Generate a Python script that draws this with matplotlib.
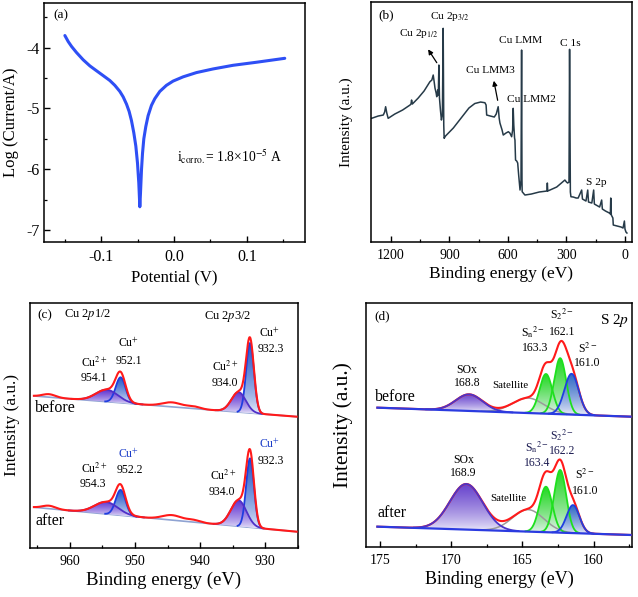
import numpy as np
import matplotlib
matplotlib.use('Agg')
import matplotlib.pyplot as plt
import matplotlib.colors as mcolors
from matplotlib.patches import PathPatch
from matplotlib.ticker import MultipleLocator

plt.rcParams['font.family'] = 'Liberation Serif'
plt.rcParams['mathtext.fontset'] = 'stix'
plt.rcParams['axes.unicode_minus'] = False

# ---- (a) polarization curve ----
pot = [-0.1503, -0.1457, -0.1411, -0.1343, -0.1251, -0.1159, -0.1068, -0.0976, -0.0885,
       -0.0816, -0.0747, -0.0701, -0.0655, -0.0619, -0.0587, -0.0555, -0.0527, -0.0504,
       -0.0486, -0.0472, -0.0463, -0.0449, -0.0435, -0.0417, -0.0390, -0.0358, -0.0312,
       -0.0266, -0.0197, -0.0106, -0.0014, 0.0124, 0.0307, 0.0536, 0.0811, 0.1132, 0.1522]
logi = [-3.80, -3.90, -3.98, -4.08, -4.20, -4.30, -4.38, -4.46, -4.54,
        -4.62, -4.72, -4.81, -4.93, -5.05, -5.20, -5.40, -5.62, -5.90,
        -6.23, -6.62, -6.40, -6.01, -5.74, -5.50, -5.30, -5.12, -4.95,
        -4.84, -4.72, -4.62, -4.55, -4.48, -4.41, -4.35, -4.29, -4.24, -4.175]

# ---- (b) survey spectrum ----
survey_be = [1299, 1265, 1239, 1232, 1227, 1221, 1214, 1180, 1140, 1102, 1097, 1094, 1090,
             1060, 1030, 1000, 990, 983, 978, 974, 968, 965, 960, 957, 954, 951, 946, 941,
             936, 932, 929, 927, 920, 880, 840, 800, 770, 740, 718, 712, 709, 690, 670, 660,
             650, 645, 641, 630, 624, 610, 598, 590, 581, 576, 573, 570, 566, 564, 561, 555,
             550, 545, 538, 533, 530, 528, 527, 513, 480, 440, 400, 398, 396, 350, 308, 300,
             294, 287, 284, 280, 277, 265, 250, 240, 222, 218, 200, 191, 187, 170, 160.5, 157,
             130, 119.5, 116, 100, 80, 75, 73, 70, 62, 60, 40, 20, 10, 3, 0, -5, -10]
survey_int = [123.7, 126, 127, 130, 135.3, 129, 123.7, 128, 132, 137, 138, 142, 138,
              144, 151, 160.3, 162, 167, 160, 154, 149, 145.3, 152, 147, 177, 144, 132, 122,
              127, 213.7, 117, 103.7, 106, 114, 124, 134, 138.5, 140, 139.3, 137, 127, 126, 125, 128,
              135.3, 124, 119, 112, 107, 109, 110.3, 109, 105.3, 112, 133.7, 117, 104, 102, 82, 81,
              79, 67, 52, 62, 192, 62, 50.3, 47, 48, 50, 51, 59, 51, 55, 62, 60,
              59, 60, 192.7, 50, 45.3, 45, 44, 44, 52, 43, 41, 52, 40, 39, 52, 38,
              35, 42, 33, 31, 29, 28, 44, 27, 24, 17, 16, 15, 14, 21, 13, 10, 9]

# ---- (c) Cu 2p fitted components ----
c_range = [965.5, 925.2]
c_base_before = [152.0, 131.3]
c_base_after = [40.7, 16.3]
c_kind = ['cu1', 'cu2', 'cu1', 'cu2']
c_center_before = [932.35, 934.1, 952.2, 954.3]
c_height_before = [70.0, 20.0, 25.5, 12.0]
c_sigma_before = [0.6, 1.1, 0.75, 1.7]
c_center_after = [932.35, 934.1, 952.2, 954.4]
c_height_after = [69.0, 26.0, 25.4, 12.0]
c_sigma_after = [0.6, 1.2, 0.75, 1.8]
c_sat_center = [963.2, 944.3, 941.0]
c_sat_height_before = [3.0, 4.5, 2.0]
c_sat_height_after = [3.0, 5.0, 2.0]
c_sat_sigma = [1.0, 1.5, 1.0]

# ---- (d) S 2p fitted components ----
d_range = [175.2, 157.4]
d_base_before = [139.3, 130.3]
d_base_after = [20.3, 12.0]
d_kind = ['sox', 'green', 'green', 'blue']
d_center_before = [168.75, 163.35, 162.35, 161.55]
d_height_before = [16.6, 39.7, 56.0, 40.8]
d_sigma_before = [0.95, 0.45, 0.42, 0.5]
d_center_after = [168.95, 163.35, 162.35, 161.45]
d_height_after = [45.6, 45.5, 62.7, 28.0]
d_sigma_after = [1.15, 0.45, 0.42, 0.45]
d_sat_center = [164.6, 164.6]
d_sat_height = [15.0, 22.0]
d_sat_sigma = [1.1, 1.1]

line_col = {'cu1': '#1f3de0', 'cu2': '#4f30c8', 'sox': '#4a35c8', 'green': '#1ee01e', 'blue': '#2040e0'}
fill_col = {'cu1': '#2458c8', 'cu2': '#6236d2', 'sox': '#6540cc', 'green': '#22d822', 'blue': '#3068c4'}


def gauss(x, c, h, s):
    return h * np.exp(-(x - c) ** 2 / (2 * s ** 2))


def grad_fill(ax, x, base, top, color, z):
    coll = ax.fill_between(x, base, top, facecolor='none', edgecolor='none')
    patch = PathPatch(coll.get_paths()[0], transform=ax.transData, fc='none', ec='none')
    ax.add_patch(patch)
    c = np.array(mcolors.to_rgb(color))
    g = np.linspace(0, 1, 120)[:, None, None] ** 0.7
    rgb = (1 - g) * np.array([0.95, 0.95, 0.99]) + g * c
    im = ax.imshow(rgb, extent=[x.min(), x.max(), base.min(), top.max()], origin='lower',
                   aspect='auto', zorder=z, interpolation='bilinear')
    im.set_clip_path(patch)


def spectrum(ax, rng, base_ends, kinds, centers, heights, sigmas, sat_c, sat_h, sat_s,
             base_col, base_lw, red_z, sat_line=False):
    x = np.linspace(rng[0], rng[1], 900)
    base = np.interp(x, rng[::-1], base_ends[::-1])
    total = base.copy()
    for k, c, h, s in zip(kinds, centers, heights, sigmas):
        g = gauss(x, c, h, s)
        total += g
        m = np.abs(x - c) < 3.2 * s
        grad_fill(ax, x[m], base[m], base[m] + g[m], fill_col[k], 3)
        ax.plot(x[m], base[m] + g[m], color=line_col[k], lw=1.3, zorder=5)
    for c, h, s in zip(sat_c, sat_h, sat_s):
        g = gauss(x, c, h, s)
        total += g
        if sat_line:
            m = np.abs(x - c) < 3 * s
            ax.plot(x[m], base[m] + g[m], color='#9a9a9a', lw=1.1, zorder=4)
    ax.plot(x, base, color=base_col, lw=base_lw, zorder=6 if red_z < 5 else 2)
    ax.plot(x, total, color='#ff1a1a', lw=1.5, zorder=red_z)


def style(ax, fs):
    for s in ax.spines.values():
        s.set_linewidth(1.1)
    ax.tick_params(which='both', direction='in', top=False, right=False, labelsize=fs, pad=5)
    ax.tick_params(which='major', length=4, width=1)
    ax.tick_params(which='minor', length=2.5, width=0.9)


fig = plt.figure(figsize=(6.38, 5.97), dpi=100)
axa = fig.add_axes([0.069, 0.5946, 0.409, 0.4003])
axb = fig.add_axes([0.5815, 0.5946, 0.4091, 0.4020])
axc = fig.add_axes([0.047, 0.0821, 0.420, 0.4104])
axd = fig.add_axes([0.5737, 0.0838, 0.4169, 0.4087])

# (a)
axa.plot(pot, logi, color='#2e4ff5', lw=2.2, solid_capstyle='round', solid_joinstyle='round')
axa.set_xlim(-0.179, 0.18)
axa.set_ylim(-7.2, -3.265)
axa.xaxis.set_minor_locator(MultipleLocator(0.05))
axa.yaxis.set_major_locator(MultipleLocator(1))
axa.yaxis.set_minor_locator(MultipleLocator(0.5))
axa.set_xticks([-0.1, 0.0, 0.1], ['-0.1', '0.0', '0.1'])
style(axa, 11.5)
axa.tick_params(axis='y', pad=3)
axa.set_xlabel('Potential (V)', fontsize=12, labelpad=3)
axa.set_ylabel('Log (Current/A)', fontsize=12)
axa.yaxis.set_label_coords(-0.0958, 0.5)
axa.text(0.063, 0.95, '(a)', transform=axa.transAxes, fontsize=9.5, ha='center', va='center')
axa.text(0.0037, -5.80, r'i$_{\rm corro.}$= 1.8×10$^{-5}$ A', fontsize=9.8, ha='left', va='center')

# (b)
axb.plot(survey_be, survey_int, color='#263a48', lw=1.1)
axb.set_xlim(1302, -36)
axb.set_ylim(0, 240)
axb.set_yticks([])
axb.set_xticks([1200, 900, 600, 300, 0])
axb.xaxis.set_minor_locator(MultipleLocator(150))
style(axb, 10)
axb.set_xlabel('Binding energy (eV)', fontsize=12.5, labelpad=3)
axb.set_ylabel('Intensity (a.u.)', fontsize=11)
axb.yaxis.set_label_coords(-0.069, 0.5)
axb.text(0.057, 0.946, '(b)', transform=axb.transAxes, fontsize=9.5, ha='center', va='center')
fsb = 8.2
axb.text(900, 226, r'Cu 2p$_{3/2}$', fontsize=fsb, ha='center', va='center')
axb.text(1056, 209, r'Cu 2p$_{1/2}$', fontsize=fsb, ha='center', va='center')
axb.annotate('', xy=(1017, 195), xytext=(957, 177),
             arrowprops=dict(arrowstyle='-|>', color='black', lw=0.9, mutation_scale=7))
axb.text(533, 202, 'Cu LMM', fontsize=fsb, ha='center', va='center')
axb.text(692, 172, 'Cu LMM3', fontsize=fsb, ha='center', va='center')
axb.annotate('', xy=(675, 164), xytext=(650, 139),
             arrowprops=dict(arrowstyle='-|>', color='black', lw=0.9, mutation_scale=7))
axb.text(482, 143, 'Cu LMM2', fontsize=fsb, ha='center', va='center')
axb.text(278, 199, 'C 1s', fontsize=fsb, ha='center', va='center')
axb.text(149, 60, 'S 2p', fontsize=fsb, ha='center', va='center')

# (c)
spectrum(axc, c_range, c_base_before, c_kind, c_center_before, c_height_before, c_sigma_before,
         c_sat_center, c_sat_height_before, c_sat_sigma, '#8fa3d2', 1.2, 7)
spectrum(axc, c_range, c_base_after, c_kind, c_center_after, c_height_after, c_sigma_after,
         c_sat_center, c_sat_height_after, c_sat_sigma, '#8fa3d2', 1.2, 7)
axc.set_xlim(966.1, 925.0)
axc.set_ylim(0, 245)
axc.set_yticks([])
axc.set_xticks([960, 950, 940, 930])
axc.xaxis.set_minor_locator(MultipleLocator(5))
style(axc, 10)
axc.set_xlabel('Binding energy (eV)', fontsize=13.5, labelpad=3)
axc.set_ylabel('Intensity (a.u.)', fontsize=12.5)
axc.yaxis.set_label_coords(-0.037, 0.5)
fsc = 8.5
axc.text(963.8, 233, '(c)', fontsize=9.5, ha='center', va='center')
axc.text(957.3, 233, r'Cu 2$p$1/2', fontsize=9, ha='center', va='center')
axc.text(935.8, 231, r'Cu 2$p$3/2', fontsize=9, ha='center', va='center')
axc.text(951.0, 204.7, r'Cu$^{+}$', fontsize=fsc, ha='center', va='center')
axc.text(951.0, 187.3, '952.1', fontsize=fsc, ha='center', va='center')
axc.text(956.3, 184.7, r'Cu$^{2+}$', fontsize=fsc, ha='center', va='center')
axc.text(956.3, 169.7, '954.1', fontsize=fsc, ha='center', va='center')
axc.text(936.2, 181.3, r'Cu$^{2+}$', fontsize=fsc, ha='center', va='center')
axc.text(936.2, 164.7, '934.0', fontsize=fsc, ha='center', va='center')
axc.text(929.3, 214.7, r'Cu$^{+}$', fontsize=fsc, ha='center', va='center')
axc.text(929.2, 199, '932.3', fontsize=fsc, ha='center', va='center')
axc.text(962.2, 139.7, 'before', fontsize=11.5, ha='center', va='center')
axc.text(956.3, 79, r'Cu$^{2+}$', fontsize=fsc, ha='center', va='center')
axc.text(956.5, 64, '954.3', fontsize=fsc, ha='center', va='center')
axc.text(951.0, 94, r'Cu$^{+}$', fontsize=fsc, ha='center', va='center', color='#1a3cc8')
axc.text(950.8, 78, '952.2', fontsize=fsc, ha='center', va='center')
axc.text(936.4, 72, r'Cu$^{2+}$', fontsize=fsc, ha='center', va='center')
axc.text(936.7, 56, '934.0', fontsize=fsc, ha='center', va='center')
axc.text(929.3, 104, r'Cu$^{+}$', fontsize=fsc, ha='center', va='center', color='#1a3cc8')
axc.text(929.2, 87, '932.3', fontsize=fsc, ha='center', va='center')
axc.text(963.0, 27.3, 'after', fontsize=11.5, ha='center', va='center')

# (d)
spectrum(axd, d_range, d_base_before, d_kind, d_center_before, d_height_before, d_sigma_before,
         d_sat_center[:1], d_sat_height[:1], d_sat_sigma[:1], '#2b3be0', 1.6, 4, sat_line=True)
spectrum(axd, d_range, d_base_after, d_kind, d_center_after, d_height_after, d_sigma_after,
         d_sat_center[1:], d_sat_height[1:], d_sat_sigma[1:], '#2b3be0', 1.6, 4, sat_line=True)
axd.set_xlim(176.0, 157.3)
axd.set_ylim(0, 244)
axd.set_yticks([])
axd.set_xticks([175, 170, 165, 160])
axd.xaxis.set_minor_locator(MultipleLocator(2.5))
style(axd, 10)
axd.set_xlabel('Binding energy (eV)', fontsize=13, labelpad=3)
axd.set_ylabel('Intensity (a.u.)', fontsize=15.5)
axd.yaxis.set_label_coords(-0.049, 0.5)
fsd = 8.5
axd.text(174.85, 230.3, '(d)', fontsize=9.5, ha='center', va='center')
axd.text(158.5, 226.3, r'S 2$p$', fontsize=11, ha='center', va='center')
axd.text(168.9, 177, 'SOx', fontsize=fsd, ha='center', va='center')
axd.text(168.9, 163.7, '168.8', fontsize=fsd, ha='center', va='center')
axd.text(165.88, 161.5, 'Satellite', fontsize=7.8, ha='center', va='center')
axd.text(164.24, 214.5, r'S$_{\rm n}$$^{2-}$', fontsize=fsd, ha='center', va='center')
axd.text(164.14, 199, '163.3', fontsize=fsd, ha='center', va='center')
axd.text(162.24, 233, r'S$_{2}$$^{2-}$', fontsize=fsd, ha='center', va='center')
axd.text(162.2, 215, '162.1', fontsize=fsd, ha='center', va='center')
axd.text(160.4, 198, r'S$^{2-}$', fontsize=fsd, ha='center', va='center')
axd.text(160.44, 183.7, '161.0', fontsize=fsd, ha='center', va='center')
axd.text(173.97, 150.3, 'before', fontsize=11.5, ha='center', va='center')
axd.text(169.14, 87, 'SOx', fontsize=fsd, ha='center', va='center')
axd.text(169.14, 73.7, '168.9', fontsize=fsd, ha='center', va='center')
axd.text(166.0, 48.5, 'Satellite', fontsize=7.8, ha='center', va='center')
axd.text(164.0, 100.3, r'S$_{\rm n}$$^{2-}$', fontsize=fsd, ha='center', va='center', color='#1a1a50')
axd.text(164.0, 83.7, '163.4', fontsize=fsd, ha='center', va='center', color='#1a1a50')
axd.text(162.2, 112, r'S$_{2}$$^{2-}$', fontsize=fsd, ha='center', va='center', color='#1a1a50')
axd.text(162.2, 96.3, '162.2', fontsize=fsd, ha='center', va='center', color='#1a1a50')
axd.text(160.6, 72, r'S$^{2-}$', fontsize=fsd, ha='center', va='center')
axd.text(160.6, 56, '161.0', fontsize=fsd, ha='center', va='center')
axd.text(174.2, 33.7, 'after', fontsize=11.5, ha='center', va='center')

fig.savefig('out.png', dpi=100)
